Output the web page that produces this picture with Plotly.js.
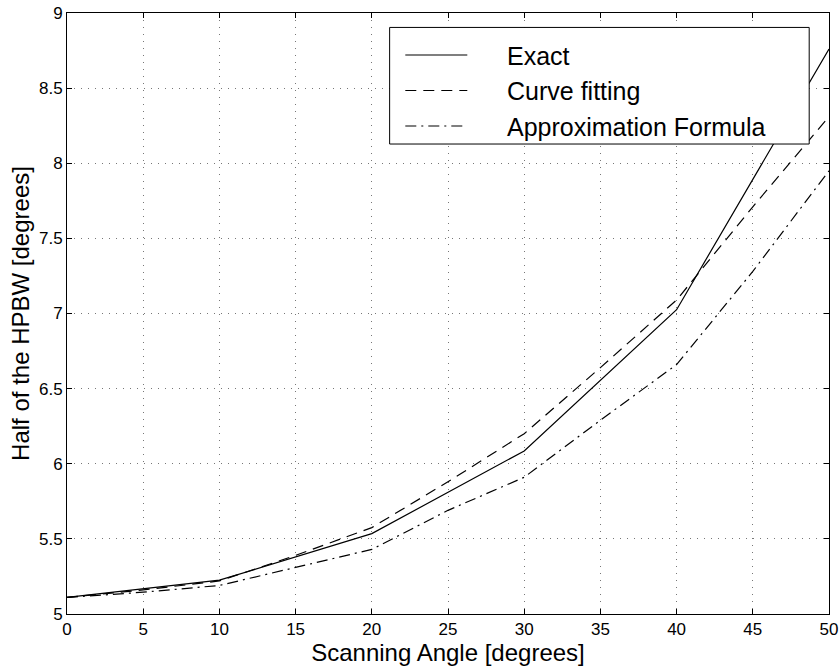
<!DOCTYPE html>
<html>
<head>
<meta charset="utf-8">
<script src="https://cdn.plot.ly/plotly-3.0.1.min.js"></script>
<style>html,body{margin:0;padding:0;background:#fff;}#chart{width:840px;height:669px;}</style>
</head>
<body>
<div id="chart"></div>
<script>
// Scanning angle [degrees]
const anglesExact = [0, 10, 20, 30, 40, 50];
const exactHPBW = [5.11, 5.225, 5.535, 6.085, 7.025, 8.76];

const anglesFine = [0, 5, 10, 15, 20, 25, 30, 35, 40, 45, 50];
const curveFitHPBW = [5.11, 5.16, 5.22, 5.39, 5.575, 5.88, 6.2, 6.64, 7.09, 7.71, 8.31];
const approxHPBW = [5.11, 5.145, 5.19, 5.31, 5.43, 5.69, 5.91, 6.29, 6.66, 7.28, 7.95];

const seriesNames = ["Exact", "Curve fitting", "Approximation Formula"];
const xTicks = [0, 5, 10, 15, 20, 25, 30, 35, 40, 45, 50];
const yTicks = [5, 5.5, 6, 6.5, 7, 7.5, 8, 8.5, 9];

const FONT = "Liberation Sans, Arial, Helvetica, sans-serif";
const PAD = "\u00a0\u00a0\u00a0\u00a0\u00a0";

const traces = [
  {x: anglesExact, y: exactHPBW, name: PAD + seriesNames[0], mode: "lines",
   line: {color: "#000", width: 1.2, dash: "solid"}},
  {x: anglesFine, y: curveFitHPBW, name: PAD + seriesNames[1], mode: "lines",
   line: {color: "#000", width: 1.2, dash: "11px,7px"}},
  {x: anglesFine, y: approxHPBW, name: PAD + seriesNames[2], mode: "lines",
   line: {color: "#000", width: 1.2, dash: "11px,5px,2px,5px"}}
];

const axisCommon = {
  showline: true, linecolor: "#000", linewidth: 1, mirror: "ticks",
  ticks: "inside", ticklen: 5, tickcolor: "#000", tickwidth: 1,
  showgrid: true, gridcolor: "#777", gridwidth: 1, griddash: "1px,6px",
  zeroline: false, tickfont: {family: FONT, size: 17, color: "#000"}
};

const layout = {
  width: 840, height: 669,
  paper_bgcolor: "#fff", plot_bgcolor: "#fff",
  margin: {l: 67, r: 11, t: 13, b: 55},
  showlegend: true,
  xaxis: Object.assign({}, axisCommon, {
    range: [0, 50], tickvals: xTicks, ticktext: xTicks.map(String),
    title: {text: "Scanning Angle [degrees]", font: {family: FONT, size: 24, color: "#000"}, standoff: 2}
  }),
  yaxis: Object.assign({}, axisCommon, {
    range: [5, 9], tickvals: yTicks, ticktext: yTicks.map(String),
    title: {text: "Half of the HPBW [degrees]", font: {family: FONT, size: 24, color: "#000"}, standoff: 2}
  }),
  shapes: [{
    type: "rect", xref: "paper", yref: "paper", layer: "above",
    x0: 0.4234, x1: 0.974, y0: 0.782, y1: 0.976,
    line: {color: "#000", width: 1}, fillcolor: "#fff"
  }],
  legend: {
    x: 0.4374, y: 0.968, xanchor: "left", yanchor: "top",
    bgcolor: "rgba(0,0,0,0)", borderwidth: 0,
    font: {family: FONT, size: 25, color: "#000"},
    itemwidth: 62, tracegroupgap: 0
  }
};

Plotly.newPlot("chart", traces, layout, {displayModeBar: false, staticPlot: true});
</script>
</body>
</html>
